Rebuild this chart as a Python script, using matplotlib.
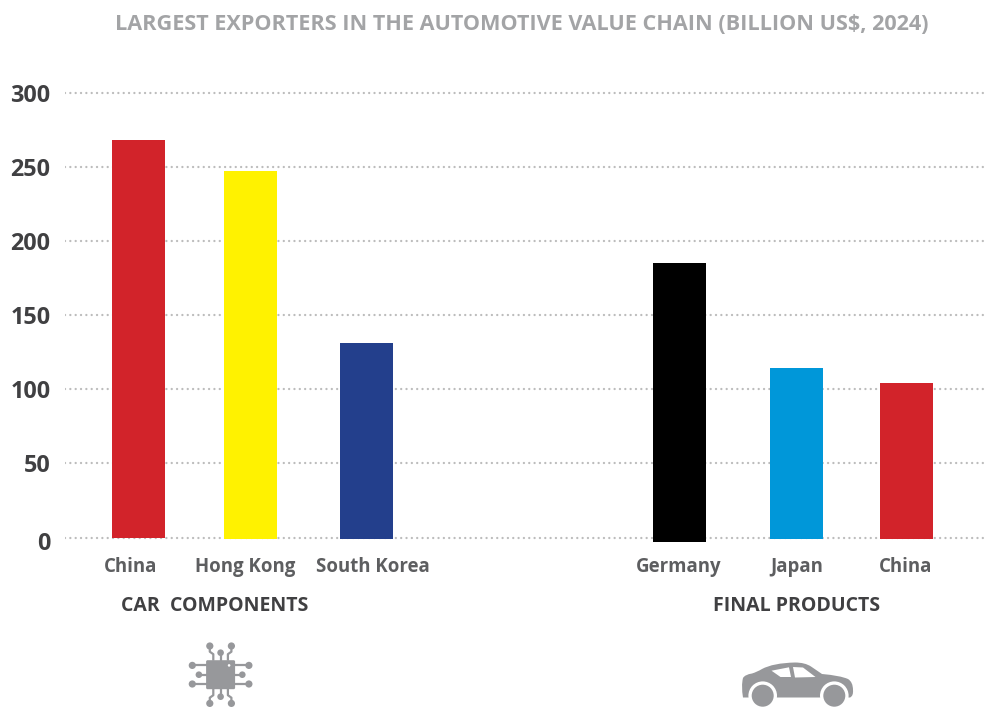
import matplotlib
matplotlib.use("Agg")
import matplotlib.pyplot as plt
from matplotlib.patches import Circle, FancyBboxPatch, PathPatch
from matplotlib.path import Path
from matplotlib.transforms import ScaledTranslation

# Export values in billion US$, 2024
categories = ["China", "Hong Kong", "South Korea", "Germany", "Japan", "China"]
values = [268, 247, 131, 185, 114, 104]
bar_bases = [0, -1.2, -1.2, -3, -1.2, -1.2]
bar_colors = ["#d2232a", "#fff200", "#233f8c", "#000000", "#0097d9", "#d2232a"]
y_ticks = [0, 50, 100, 150, 200, 250, 300]

title_text = "LARGEST EXPORTERS IN THE AUTOMOTIVE VALUE CHAIN (BILLION US$, 2024)"
group_labels = ["CAR  COMPONENTS", "FINAL PRODUCTS"]

# Horizontal layout, in figure pixels
bar_x = [138.5, 250.5, 366.5, 679.5, 796.5, 906.5]
label_x = [130.5, 245.5, 372.5, 679, 797, 906]
group_x = [215, 797]
bar_width = 53

W, H = 987, 707
GRAY = "#97989b"
plt.rcParams["font.family"] = ["Open Sans", "DejaVu Sans"]

fig = plt.figure(figsize=(W / 100, H / 100), dpi=100, facecolor="white")

# Plot area: 0 sits at y=537.5 px and 300 at y=92.5 px
px_per_unit = 445 / 300
top_px, bottom_px = 85, 545
ax = fig.add_axes([65 / W, 1 - bottom_px / H, 920 / W, (bottom_px - top_px) / H])
ax.set_xlim(65, 985)
ax.set_ylim((537.5 - bottom_px) / px_per_unit, (537.5 - top_px) / px_per_unit)
for spine in ax.spines.values():
    spine.set_visible(False)

ax.set_axisbelow(True)
ax.yaxis.grid(True, color="#bcbcbc", linewidth=1.7,
              linestyle=(0, (0.01, 2.25)), dash_capstyle="round")
ax.xaxis.grid(False)

heights = [v - b for v, b in zip(values, bar_bases)]
ax.bar(bar_x, heights, width=bar_width, bottom=bar_bases, color=bar_colors,
       linewidth=0, zorder=3)

ax.set_yticks(y_ticks)
ax.set_yticklabels([str(t) for t in y_ticks], fontsize=16.8, fontweight="bold",
                   color="#404042")
ax.set_xticks(label_x)
ax.set_xticklabels(categories, fontsize=13.4, fontweight="bold", color="#5d5e60")
ax.tick_params(axis="both", length=0)
ax.tick_params(axis="y", pad=10.5)
ax.tick_params(axis="x", pad=8.5)

# The zero label sits a little below its gridline
zero_label = ax.get_yticklabels()[0]
zero_label.set_transform(zero_label.get_transform()
                         + ScaledTranslation(0, -3 / 100, fig.dpi_scale_trans))

fig.text(522 / W, 1 - 25 / H, title_text, ha="center", va="center",
         fontsize=15.6, fontweight="bold", color="#a3a4a6")
for x, text in zip(group_x, group_labels):
    fig.text(x / W, 1 - 606 / H, text, ha="center", va="center",
             fontsize=14, fontweight="bold", color="#404042")

# Pictogram layer, addressed in figure pixels with y pointing down
icons = fig.add_axes([0, 0, 1, 1], facecolor="none")
icons.set_xlim(0, W)
icons.set_ylim(H, 0)
icons.axis("off")


def chip(cx, cy):
    pin = dict(color=GRAY, lw=1.6, solid_capstyle="butt", solid_joinstyle="round")
    icons.add_patch(FancyBboxPatch((cx - 14.5, cy - 14.5), 29, 29,
                                   boxstyle="round,pad=0,rounding_size=1.5",
                                   fc=GRAY, ec="none", zorder=2))
    icons.add_patch(Circle((cx + 8.5, cy - 9.3), 1.3, fc="white", ec="none", zorder=3))
    for sign in (-1, 1):
        # Pins on the top and bottom edges
        for side in (-1, 1):
            icons.plot([cx + side * 7.3, cx + side * 7.3, cx + side * 10.8, cx + side * 10.8],
                       [cy + sign * 14, cy + sign * 20.5, cy + sign * 23, cy + sign * 28.7], **pin)
            icons.add_patch(Circle((cx + side * 10.8, cy + sign * 28.7), 3.6, fc=GRAY, ec="none"))
        icons.plot([cx, cx], [cy + sign * 14, cy + sign * 22], **pin)
        icons.add_patch(Circle((cx, cy + sign * 22), 3.3, fc=GRAY, ec="none"))
        # Pins on the left and right edges
        for dy, tip_x, r in ((-9.3, 28.3, 3.6), (0, 21.7, 3.3), (9.3, 28.3, 3.6)):
            icons.plot([cx + sign * 14, cx + sign * tip_x], [cy + dy, cy + dy], **pin)
            icons.add_patch(Circle((cx + sign * tip_x, cy + dy), r, fc=GRAY, ec="none"))


def car():
    outline = [
        (Path.MOVETO, (743, 697.5)),
        (Path.CURVE3, (741, 686)), (Path.CURVE3, (743, 678)),
        (Path.CURVE3, (745, 674.5)), (Path.CURVE3, (752, 673.5)),
        (Path.CURVE3, (757, 672)), (Path.CURVE3, (762, 669)),
        (Path.CURVE3, (773, 663)), (Path.CURVE3, (795, 662.5)),
        (Path.CURVE3, (805, 662.5)), (Path.CURVE3, (811, 666.5)),
        (Path.LINETO, (822, 674)),
        (Path.CURVE3, (840, 675.5)), (Path.CURVE3, (848, 679)),
        (Path.CURVE3, (853, 682)), (Path.CURVE3, (853, 690)),
        (Path.CURVE3, (853.5, 696)), (Path.CURVE3, (850, 697.5)),
        (Path.LINETO, (743, 697.5)),
        (Path.CLOSEPOLY, (743, 697.5)),
    ]
    codes, verts = zip(*outline)
    icons.add_patch(PathPatch(Path(verts, codes), fc=GRAY, ec="none", zorder=2))
    # Wheel arches and tyres
    for wx in (762.7, 834.3):
        icons.add_patch(Circle((wx, 695.7), 14.3, fc="white", ec="none", zorder=3))
        icons.add_patch(Circle((wx, 695.7), 11, fc=GRAY, ec="none", zorder=4))
    # Side windows
    for win in ([(771.5, 670.7), (789, 667.3), (791, 677), (780.5, 677)],
                [(793, 667), (803, 667.5), (815.5, 677), (795, 677.5)]):
        icons.fill(*zip(*win), fc="white", ec="none", zorder=3)


chip(220.6, 674.7)
car()

fig.savefig("out.png", dpi=100, facecolor="white")
